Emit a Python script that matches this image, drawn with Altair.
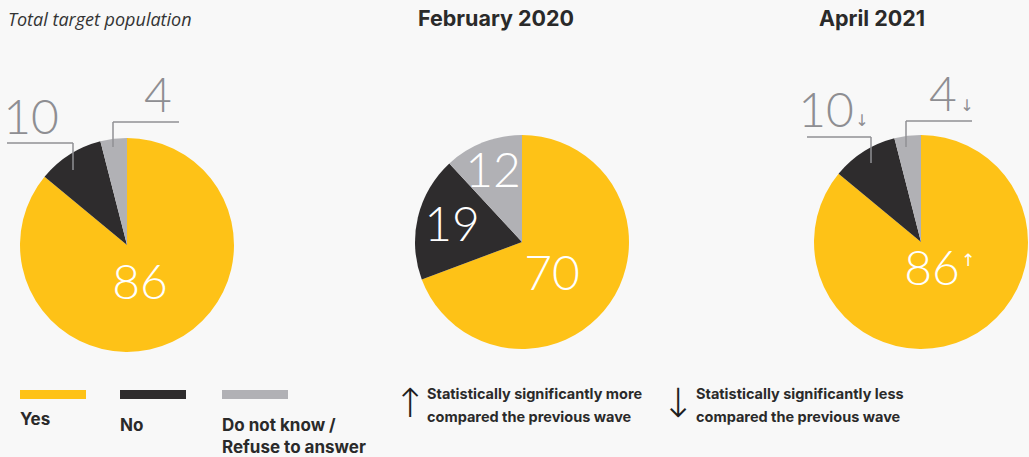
import altair as alt
import pandas as pd

# ---------------- data ----------------
categories = ["Yes", "No", "Do not know / Refuse to answer"]
total_values = [86, 10, 4]
feb2020_values = [70, 19, 12]
apr2021_values = [86, 10, 4]
apr2021_change = ["↑", "↓", "↓"]
panel_titles = ["Total target population", "February 2020", "April 2021"]
legend_lines = [["Yes"], ["No"], ["Do not know /", "Refuse to answer"]]
note_arrows = ["↑", "↓"]
note_lines = [
    ["Statistically significantly more", "compared the previous wave"],
    ["Statistically significantly less", "compared the previous wave"],
]

# ---------------- style ----------------
colors = ["#FEC217", "#2E2C2D", "#B1B1B5"]
NUM_FONT = "Lato"
BOLD_FONT = "Inter"
GREY_TXT = "#8E8E92"
LINE_COL = "#909094"
DARK = "#2A2A2A"
R = 107


def pie(values, cx, cy):
    df = pd.DataFrame({"category": categories, "value": values, "k": list(range(len(values)))})
    return alt.Chart(df).mark_arc(outerRadius=R, strokeWidth=0).encode(
        theta=alt.Theta("value:Q", stack=True),
        color=alt.Color("category:N", scale=alt.Scale(domain=categories, range=colors), legend=None),
        order=alt.Order("k:Q"),
        x=alt.value(cx),
        y=alt.value(cy),
    )


def label(text, x, y, size, color, font=NUM_FONT, weight=300, align="center", style="normal"):
    return alt.Chart(pd.DataFrame({"t": [text]})).mark_text(
        fontSize=size, color=color, font=font, fontWeight=weight,
        align=align, baseline="middle", fontStyle=style,
    ).encode(text="t:N", x=alt.value(x), y=alt.value(y))


def rule(x1, y1, x2, y2, color=LINE_COL, w=1.5):
    return alt.Chart(pd.DataFrame({"a": [0]})).mark_rule(color=color, strokeWidth=w).encode(
        x=alt.value(x1), x2=alt.value(x2), y=alt.value(y1), y2=alt.value(y2)
    )


def swatch(x1, x2, y1, y2, color):
    return alt.Chart(pd.DataFrame({"a": [0]})).mark_rect(color=color).encode(
        x=alt.value(x1), x2=alt.value(x2), y=alt.value(y1), y2=alt.value(y2)
    )


layers = []
# pies
layers.append(pie(total_values, 127, 245))
layers.append(pie(feb2020_values, 522, 242))
layers.append(pie(apr2021_values, 921, 242))

# titles
layers.append(label(panel_titles[0], 8, 21, 18, "#333333", font="Open Sans", weight=400, align="left", style="italic"))
layers.append(label(panel_titles[1], 496, 20, 21.5, DARK, font=BOLD_FONT, weight=700))
layers.append(label(panel_titles[2], 872, 20, 21.5, DARK, font=BOLD_FONT, weight=700))

# total pie labels
NUM = 48
layers.append(label(str(total_values[0]), 140, 285, NUM, "white"))
layers.append(label(str(total_values[1]), 31, 120, NUM, GREY_TXT))
layers.append(label(str(total_values[2]), 158, 98, NUM, GREY_TXT))
layers.append(rule(7, 143, 73, 143))
layers.append(rule(73, 143, 73, 170))
layers.append(rule(113, 122, 179, 122))
layers.append(rule(113, 122, 113, 147))

# feb 2020 labels
layers.append(label(str(feb2020_values[0]), 552, 276, NUM, "white"))
layers.append(label(str(feb2020_values[1]), 452, 227, NUM, "white"))
layers.append(label(str(feb2020_values[2]), 493, 173, NUM, "white"))

# apr 2021 labels
layers.append(label(str(apr2021_values[0]), 932, 271, NUM, "white"))
layers.append(label(apr2021_change[0], 968, 261, 17, "white", font="DejaVu Sans", weight=400))
layers.append(label(str(apr2021_values[1]), 826, 113, NUM, GREY_TXT))
layers.append(label(apr2021_change[1], 862, 121, 16, GREY_TXT, font="DejaVu Sans", weight=400))
layers.append(label(str(apr2021_values[2]), 943, 97, NUM, GREY_TXT))
layers.append(label(apr2021_change[2], 967, 106, 16, GREY_TXT, font="DejaVu Sans", weight=400))
layers.append(rule(807, 137, 871, 137))
layers.append(rule(871, 137, 871, 163))
layers.append(rule(906, 121, 972, 121))
layers.append(rule(906, 121, 906, 147))

# legend
sw_x = [20, 120, 222]
lab_y = [420, 426, 426]
for i in range(3):
    layers.append(swatch(sw_x[i], sw_x[i] + 66, 390, 399, colors[i]))
    for j, line in enumerate(legend_lines[i]):
        layers.append(label(line, sw_x[i], lab_y[i] + 22 * j, 17, DARK, font=BOLD_FONT, weight=700, align="left"))

# notes
note_arrow_x = [410, 678]
note_text_x = [427, 696]
for i in range(2):
    layers.append(label(note_arrows[i], note_arrow_x[i], 405, 40, "#1E1E1E", font="DejaVu Sans", weight=300))
    for j, line in enumerate(note_lines[i]):
        layers.append(label(line, note_text_x[i], 395 + 23 * j, 14.5, DARK, font=BOLD_FONT, weight=700, align="left"))

chart = alt.layer(*layers).resolve_scale(theta="independent").properties(
    width=1029, height=457, padding=0, autosize="none", background="#F8F8F8"
).configure_view(stroke=None)

chart.save("out.html", embed_options={"renderer": "svg", "actions": False})
